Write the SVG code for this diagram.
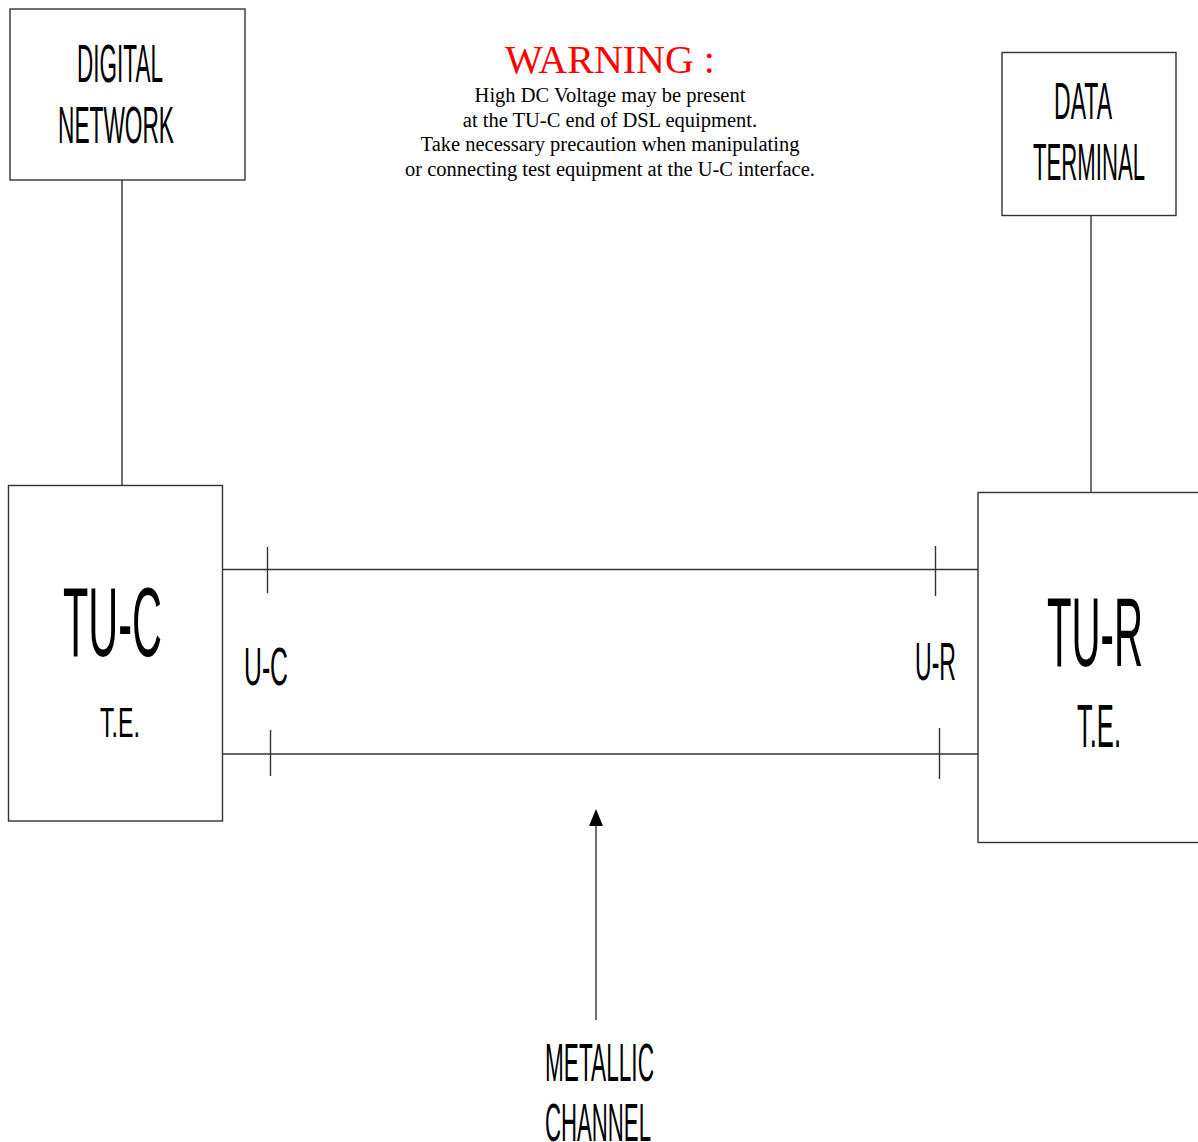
<svg xmlns="http://www.w3.org/2000/svg" width="1198" height="1142" viewBox="0 0 1198 1142">
<style>
.box{fill:#fff;stroke:#333;stroke-width:1.4}
.ln{stroke:#333;stroke-width:1.4;fill:none}
.n{font-family:"Liberation Sans",Arial,sans-serif;fill:#000}
.w{font-family:"Liberation Serif","Times New Roman",serif;fill:#000;font-size:20.5px;text-anchor:middle}
</style>
<rect width="1198" height="1142" fill="#fff"/>
<g id="connectors">
<line class="ln" x1="122" y1="180" x2="122" y2="486"/>
<line class="ln" x1="1091" y1="216" x2="1091" y2="493"/>
<line class="ln" x1="222" y1="569.5" x2="978" y2="569.5"/>
<line class="ln" x1="222" y1="754" x2="978" y2="754"/>
<line class="ln" x1="267.5" y1="547" x2="267.5" y2="593"/>
<line class="ln" x1="270.5" y1="730" x2="270.5" y2="776"/>
<line class="ln" x1="935.5" y1="546" x2="935.5" y2="596"/>
<line class="ln" x1="939.5" y1="728" x2="939.5" y2="779"/>
<line class="ln" x1="596" y1="1020" x2="596" y2="826"/>
<path d="M589,826 L596,809 L603,826 Z" fill="#000"/>
</g>
<g id="digital-network">
<rect class="box" x="10" y="9" width="235" height="171"/>
<text class="n" x="77" y="82" font-size="54" textLength="86" lengthAdjust="spacingAndGlyphs">DIGITAL</text>
<text class="n" x="58" y="143" font-size="52" textLength="116" lengthAdjust="spacingAndGlyphs">NETWORK</text>
</g>
<g id="data-terminal">
<rect class="box" x="1002" y="52.5" width="174" height="163"/>
<text class="n" x="1054" y="119" font-size="52" textLength="58" lengthAdjust="spacingAndGlyphs">DATA</text>
<text class="n" x="1033" y="180" font-size="52" textLength="112" lengthAdjust="spacingAndGlyphs">TERMINAL</text>
</g>
<g id="warning">
<text x="610" y="73" font-family="'Liberation Serif','Times New Roman',serif" font-size="40" fill="#ff0000" text-anchor="middle">WARNING :</text>
<text class="w" x="610" y="102">High DC Voltage may be present</text>
<text class="w" x="610" y="126.5">at the TU-C end of DSL equipment.</text>
<text class="w" x="610" y="151">Take necessary precaution when manipulating</text>
<text class="w" x="610" y="175.5">or connecting test equipment at the U-C interface.</text>
</g>
<g id="tu-c">
<rect class="box" x="8.5" y="485.5" width="214" height="335.5"/>
<text class="n" x="63" y="656" font-size="98" textLength="99" lengthAdjust="spacingAndGlyphs">TU-C</text>
<text class="n" x="100" y="737" font-size="42" textLength="40" lengthAdjust="spacingAndGlyphs">T.E.</text>
</g>
<g id="tu-r">
<rect class="box" x="978" y="492.5" width="230" height="350"/>
<text class="n" x="1047" y="666" font-size="99" textLength="96" lengthAdjust="spacingAndGlyphs">TU-R</text>
<text class="n" x="1077" y="747" font-size="61" textLength="44" lengthAdjust="spacingAndGlyphs">T.E.</text>
</g>
<g id="labels">
<text class="n" x="244" y="685" font-size="53" textLength="44" lengthAdjust="spacingAndGlyphs">U-C</text>
<text class="n" x="915" y="680" font-size="54" textLength="41" lengthAdjust="spacingAndGlyphs">U-R</text>
<text class="n" x="545" y="1081" font-size="53" textLength="109" lengthAdjust="spacingAndGlyphs">METALLIC</text>
<text class="n" x="545" y="1141" font-size="53" textLength="106" lengthAdjust="spacingAndGlyphs">CHANNEL</text>
</g>
</svg>
